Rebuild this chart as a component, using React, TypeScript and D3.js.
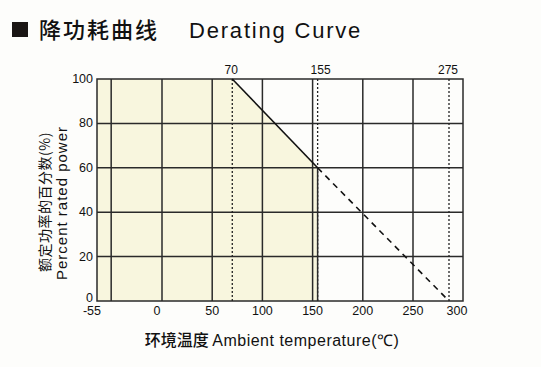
import React, { useRef, useEffect } from 'react'
import * as d3 from 'd3'

// breakpoints of the x scale (the original drawing is not quite linear)
const xDomain = [-55, 0, 250, 275, 300]
const xGrid = [-43, 0, 50, 100, 150, 200, 250]
const xTicks = [-55, 0, 50, 100, 150, 200, 250, 300]
const yTicks = [0, 20, 40, 60, 80, 100]
const markTemps = [70, 155, 275]
// derating curve: temperature, percent power
const curveSolid: [number, number][] = [[70, 100], [155, 60]]
const curveDashed: [number, number][] = [[155, 60], [275, 0]]
const safeArea: [number, number][] = [[-55, 0], [-55, 100], [70, 100], [155, 60], [155, 0]]

const latin = '"Liberation Sans", Arial, sans-serif'
const cjk = '"Noto Sans CJK SC", sans-serif'

const App = () => {
  const svgRef = useRef<SVGSVGElement>(null)

  useEffect(() => {
    const svg = d3.select(svgRef.current)
    svg.selectAll('*').remove()
    const left = 97, right = 463, top = 79, bottom = 301

    const x = d3.scaleLinear().domain(xDomain).range([left, 162, 413, 449, right])
    const y = d3.scaleLinear().domain([0, 100]).range([bottom, top])

    // title
    svg.append('rect').attr('x', 12).attr('y', 22).attr('width', 16).attr('height', 15).attr('fill', '#1a1614')
    svg.append('text').attr('x', 39).attr('y', 38).attr('font-family', cjk).attr('font-size', 22)
      .attr('font-weight', 500).attr('letter-spacing', 2).attr('fill', '#111').text('降功耗曲线')
    svg.append('text').attr('x', 189).attr('y', 38).attr('font-family', latin).attr('font-size', 22)
      .attr('letter-spacing', 1.8).attr('fill', '#111').text('Derating Curve')

    // safe operating area fill
    const line = d3.line<[number, number]>().x(d => x(d[0])).y(d => y(d[1]))
    svg.append('path').attr('d', line(safeArea) + 'Z').attr('fill', '#f8f6de')

    const g = svg.append('g').attr('stroke', '#2a2a2a').attr('stroke-width', 1.5)
    g.selectAll('.vg').data(xGrid).join('line')
      .attr('x1', d => x(d)).attr('x2', d => x(d)).attr('y1', top).attr('y2', bottom)
    g.selectAll('.hg').data(yTicks.slice(1, -1)).join('line')
      .attr('x1', left).attr('x2', right).attr('y1', d => y(d)).attr('y2', d => y(d))
    g.append('rect').attr('x', left).attr('y', top).attr('width', right - left).attr('height', bottom - top)
      .attr('fill', 'none')

    // marker lines at 70, 155, 275
    svg.selectAll('.mk').data(markTemps).join('line')
      .attr('x1', d => x(d)).attr('x2', d => x(d)).attr('y1', top).attr('y2', bottom)
      .attr('stroke', '#222').attr('stroke-width', 1.3).attr('stroke-dasharray', '2,2')
    svg.append('line').attr('x1', x(155)).attr('x2', x(155)).attr('y1', y(60)).attr('y2', bottom)
      .attr('stroke', '#2a2a2a').attr('stroke-width', 1.5)
    svg.selectAll('.mkl').data(markTemps).join('text')
      .attr('x', d => x(d) + (d === 155 ? 3 : -1)).attr('y', 74).attr('text-anchor', 'middle')
      .attr('font-family', latin).attr('font-size', 12).attr('fill', '#111').text(d => d)

    // curve
    svg.append('path').attr('d', line(curveSolid)).attr('fill', 'none')
      .attr('stroke', '#111').attr('stroke-width', 1.6)
    svg.append('path').attr('d', line(curveDashed)).attr('fill', 'none')
      .attr('stroke', '#111').attr('stroke-width', 1.6).attr('stroke-dasharray', '6,5')

    // tick labels
    svg.selectAll('.xt').data(xTicks).join('text')
      .attr('x', d => x(d) + (d === -55 ? -5 : d === 0 ? -5 : d === 300 ? -6 : 0)).attr('y', 315)
      .attr('text-anchor', 'middle').attr('font-family', latin).attr('font-size', 12.5).attr('fill', '#111')
      .text(d => d)
    svg.selectAll('.yt').data(yTicks).join('text')
      .attr('x', 93).attr('y', d => y(d) + 4 - (d === 0 ? 3 : 0))
      .attr('text-anchor', 'end').attr('font-family', latin).attr('font-size', 12.5).attr('fill', '#111')
      .text(d => d)

    // axis titles
    svg.append('text').attr('transform', 'translate(50,202) rotate(-90)').attr('text-anchor', 'middle')
      .attr('font-family', cjk).attr('font-size', 14).attr('letter-spacing', 0.5).attr('fill', '#111')
      .text('额定功率的百分数(%)')
    svg.append('text').attr('transform', 'translate(67,203) rotate(-90)').attr('text-anchor', 'middle')
      .attr('font-family', latin).attr('font-size', 15).attr('letter-spacing', 1).attr('fill', '#111')
      .text('Percent rated power')
    svg.append('text').attr('x', 272).attr('y', 346).attr('text-anchor', 'middle')
      .attr('font-size', 16).attr('fill', '#111')
      .call(t => {
        t.append('tspan').attr('font-family', cjk).attr('font-weight', 500).text('环境温度 ')
        t.append('tspan').attr('font-family', latin).attr('letter-spacing', 0.5).text(' Ambient temperature(℃)')
      })
  }, [])

  return (
    <svg ref={svgRef} width={541} height={367}
      style={{ position: 'absolute', left: 0, top: 0, background: '#fdfdfb' }} />
  )
}

export default App
